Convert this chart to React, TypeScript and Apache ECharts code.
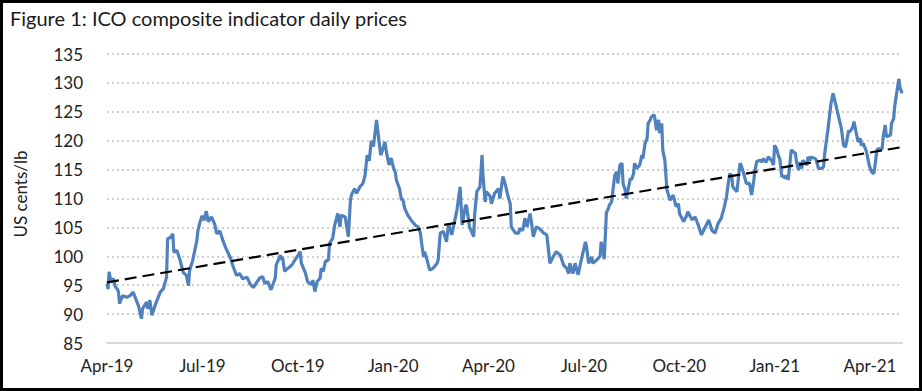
import React, { useEffect, useRef } from 'react';
import * as echarts from 'echarts';

// x values: days since 1 April 2019
const quarterLabels = ['Apr-19', 'Jul-19', 'Oct-19', 'Jan-20', 'Apr-20', 'Jul-20', 'Oct-20', 'Jan-21', 'Apr-21'];
const daysPerQuarter = 91.3;
const lastDay = 761;

const dayOffsets = [
  0, 1, 2, 4, 6, 8, 10, 11, 12, 15,
  19, 22, 25, 27, 30, 33, 34, 38, 39, 41,
  43, 46, 51, 54, 57, 58, 61, 63, 64, 67,
  70, 73, 76, 78, 79, 82, 86, 87, 89, 91,
  93, 95, 97, 100, 103, 105, 108, 111, 114, 118,
  121, 124, 127, 130, 134, 137, 140, 143, 146, 149,
  151, 154, 157, 161, 162, 166, 167, 168, 170, 173,
  177, 180, 183, 185, 186, 190, 192, 196, 197, 199,
  201, 204, 205, 207, 209, 212, 213, 216, 218, 220,
  221, 223, 224, 228, 231, 233, 234, 237, 239, 242,
  245, 247, 249, 251, 253, 255, 257, 258, 260, 262,
  264, 266, 268, 270, 272, 274, 276, 277, 280, 282,
  283, 285, 288, 291, 295, 298, 300, 301, 303, 304,
  306, 308, 309, 312, 316, 317, 319, 322, 325, 327,
  330, 333, 335, 338, 340, 343, 344, 347, 351, 352,
  354, 357, 359, 360, 362, 363, 367, 368, 371, 375,
  376, 379, 381, 384, 386, 387, 391, 394, 395, 398,
  400, 402, 405, 406, 408, 411, 414, 418, 421, 424,
  427, 430, 434, 437, 440, 442, 443, 446, 448, 451,
  454, 458, 459, 461, 464, 465, 469, 472, 473, 475,
  476, 478, 480, 481, 483, 486, 488, 489, 491, 493,
  494, 496, 497, 501, 502, 504, 505, 507, 510, 512,
  513, 515, 517, 518, 520, 521, 523, 524, 526, 528,
  529, 531, 532, 534, 536, 539, 542, 544, 545, 547,
  548, 552, 555, 556, 560, 563, 566, 569, 572, 576,
  579, 582, 585, 588, 591, 593, 596, 598, 599, 603,
  606, 607, 609, 612, 615, 617, 619, 620, 622, 625,
  627, 628, 631, 633, 636, 638, 639, 641, 643, 644,
  646, 647, 649, 651, 652, 654, 655, 659, 660, 662,
  663, 665, 666, 670, 671, 673, 674, 678, 679, 681,
  684, 686, 687, 690, 693, 695, 697, 700, 703, 705,
  707, 710, 711, 714, 715, 717, 719, 721, 722, 724,
  726, 727, 729, 730, 732, 734, 735, 737, 738, 742,
  743, 745, 746, 750, 751, 753, 754, 756, 758, 759,
  761,
];

const prices = [
  95.3, 94.3, 97.3, 95.5, 96.2, 94.7, 94.3, 93.8, 91.8, 93.2,
  92.9, 93.2, 93.8, 92.9, 91.5, 89.2, 90.9, 92.1, 90.9, 92.4,
  89.8, 91.5, 93.8, 94.4, 96.4, 103.0, 103.3, 103.9, 100.7, 101.0,
  99.3, 97.2, 96.7, 94.9, 97.5, 99.3, 102.7, 104.4, 105.9, 107.0,
  106.2, 107.8, 106.0, 106.8, 105.6, 103.9, 104.4, 102.7, 101.3, 99.8,
  98.1, 96.7, 97.0, 96.1, 96.4, 95.2, 94.6, 95.4, 96.2, 96.5,
  95.3, 95.6, 94.2, 96.2, 98.5, 100.2, 99.4, 99.9, 97.4, 97.9,
  98.5, 99.4, 100.2, 100.8, 98.8, 97.1, 95.6, 95.1, 95.9, 93.9,
  95.6, 96.2, 97.9, 97.4, 99.1, 99.4, 102.2, 103.1, 105.4, 106.8,
  107.4, 105.1, 107.1, 106.8, 103.4, 109.7, 110.6, 111.7, 110.9, 112.0,
  112.6, 114.0, 117.5, 116.5, 120.0, 119.0, 122.0, 123.6, 120.5, 117.5,
  118.5, 119.8, 117.5, 115.8, 117.0, 115.5, 114.5, 113.2, 111.7, 109.7,
  110.0, 108.3, 107.1, 106.3, 105.4, 105.1, 104.0, 102.5, 99.9, 100.8,
  99.6, 98.2, 97.6, 97.9, 98.8, 99.4, 104.0, 104.3, 102.5, 105.7,
  103.7, 106.3, 108.0, 112.0, 105.4, 108.6, 108.9, 105.1, 103.4, 107.4,
  111.2, 112.0, 117.5, 113.8, 109.4, 111.2, 110.3, 109.1, 110.9, 111.7,
  110.0, 113.8, 112.6, 110.3, 109.1, 105.1, 104.0, 104.0, 104.8, 104.5,
  106.6, 105.1, 107.4, 106.3, 103.4, 105.1, 104.8, 104.0, 103.7, 98.8,
  99.9, 100.8, 100.2, 98.5, 97.9, 97.0, 98.8, 97.0, 98.8, 96.8,
  99.4, 102.5, 101.7, 98.8, 99.9, 98.8, 99.4, 100.0, 102.5, 100.8,
  99.5, 107.5, 108.3, 108.9, 109.4, 114.0, 114.6, 112.6, 115.8, 116.1,
  112.6, 111.5, 110.0, 113.5, 113.2, 114.3, 116.1, 115.2, 115.8, 117.5,
  116.9, 119.5, 120.4, 123.0, 123.6, 124.1, 124.4, 124.4, 121.8, 123.6,
  121.3, 123.0, 118.4, 116.6, 111.5, 109.7, 110.6, 109.1, 108.6, 109.1,
  107.4, 106.0, 107.1, 107.7, 106.3, 106.8, 105.4, 103.7, 104.8, 106.3,
  104.5, 104.0, 105.7, 106.6, 108.6, 110.3, 114.3, 114.0, 112.0, 111.2,
  116.1, 115.8, 114.6, 112.6, 112.6, 110.6, 112.9, 114.6, 116.4, 116.6,
  116.3, 116.9, 116.3, 117.2, 116.6, 115.8, 119.2, 118.6, 117.2, 116.9,
  113.7, 114.0, 113.5, 114.0, 113.2, 116.6, 118.4, 117.8, 116.3, 114.9,
  116.3, 115.2, 116.6, 115.8, 117.2, 116.6, 117.2, 116.9, 116.6, 115.2,
  115.2, 115.5, 117.8, 121.8, 126.4, 128.2, 126.7, 124.4, 122.1, 119.2,
  118.9, 121.8, 121.5, 122.4, 123.3, 121.5, 119.8, 120.4, 119.2, 119.5,
  118.6, 118.1, 116.3, 115.5, 114.6, 114.3, 115.5, 118.4, 118.6, 118.6,
  120.7, 122.7, 120.7, 121.0, 123.0, 123.8, 125.9, 128.4, 130.7, 129.3,
  128.2,
];

const trendDays = [0, 761];
const trendValues = [95.5, 118.9];

const yMin = 85;
const yMax = 135;
const yStep = 5;

const FONT = 'Lato';

export default function App() {
  const ref = useRef<HTMLDivElement>(null);

  useEffect(() => {
    if (!ref.current) return;
    const chart = echarts.init(ref.current, null, { renderer: 'svg' });
    chart.setOption({
      animation: false,
      backgroundColor: '#ffffff',
      textStyle: { fontFamily: FONT },
      title: {
        text: 'Figure 1: ICO composite indicator daily prices',
        left: 10,
        top: 8,
        padding: 0,
        textStyle: { fontFamily: FONT, fontSize: 20, fontWeight: 'normal', color: '#1a1a1a' },
      },
      grid: { left: 107, right: 20, top: 54, bottom: 48 },
      xAxis: {
        type: 'value',
        min: 0,
        max: lastDay,
        interval: daysPerQuarter,
        axisLine: { show: true, lineStyle: { color: '#d9d9d9', width: 2 } },
        axisTick: { show: false },
        splitLine: { show: false },
        axisLabel: {
          margin: 14,
          fontSize: 17,
          fontFamily: FONT,
          color: '#222',
          showMaxLabel: false,
          formatter: (v: number) => {
            const k = Math.round(v / daysPerQuarter);
            if (Math.abs(v - k * daysPerQuarter) > 0.5) return '';
            return quarterLabels[k] ?? '';
          },
        },
      },
      yAxis: {
        type: 'value',
        min: yMin,
        max: yMax,
        interval: yStep,
        axisLine: { show: false },
        axisTick: { show: false },
        splitLine: { show: true, lineStyle: { color: '#d0d0d0', width: 2, type: [2, 3] } },
        axisLabel: { margin: 24, fontSize: 17, fontFamily: FONT, color: '#222' },
      },
      series: [
        {
          type: 'line',
          data: dayOffsets.map((d, i) => [d, prices[i]]),
          symbol: 'none',
          lineStyle: { color: '#4F81BD', width: 3.2 },
          z: 2,
        },
        {
          type: 'line',
          data: trendDays.map((d, i) => [d, trendValues[i]]),
          symbol: 'none',
          lineStyle: { color: '#000', width: 2.2, type: [12, 6] },
          z: 3,
        },
      ],
      graphic: [
        {
          type: 'text',
          x: 20,
          y: 194,
          rotation: Math.PI / 2,
          style: {
            text: 'US cents/lb',
            font: `17px ${FONT}`,
            fill: '#222',
            textAlign: 'center',
            textVerticalAlign: 'middle',
          },
        },
        {
          type: 'rect',
          silent: true,
          z: 100,
          shape: { x: 1.5, y: 1.5, width: 919, height: 388 },
          style: { fill: 'none', stroke: '#000', lineWidth: 3 },
        },
      ],
    });
    return () => chart.dispose();
  }, []);

  return (
    <div
      ref={ref}
      style={{ position: 'absolute', left: 0, top: 0, width: 922, height: 391, background: '#fff' }}
    />
  );
}
